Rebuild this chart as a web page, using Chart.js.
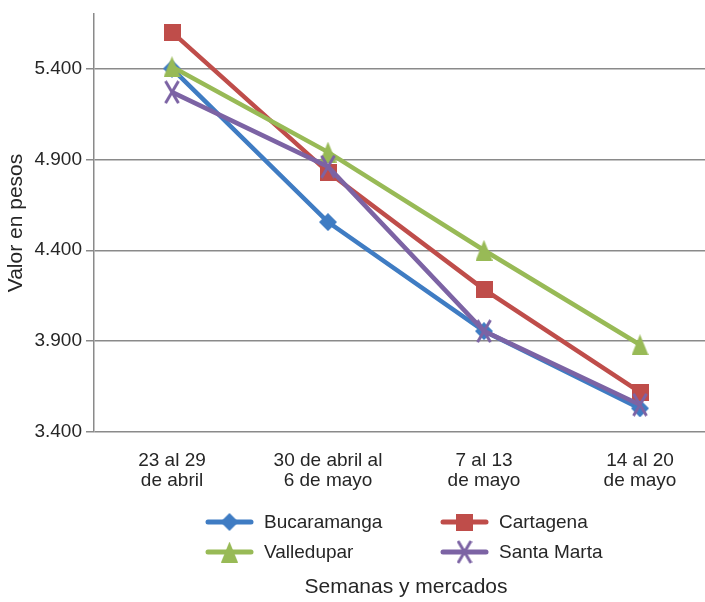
<!DOCTYPE html>
<html><head><meta charset="utf-8">
<script src="https://cdn.jsdelivr.net/npm/chart.js@4"></script>
<style>html,body{margin:0;padding:0;overflow:hidden;background:#fff}#wrap{width:705px;height:602px;position:relative}</style>
</head><body><div id="wrap"><canvas id="c" width="705" height="602"></canvas></div>
<script>
const categories = [["23 al 29","de abril"],["30 de abril al","6 de mayo"],["7 al 13","de mayo"],["14 al 20","de mayo"]];
const bucaramanga = [5400, 4555, 3955, 3530];
const cartagena = [5600, 4830, 4185, 3620];
const valledupar = [5410, 4940, 4400, 3880];
const santaMarta = [5270, 4860, 3955, 3550];
const yTicks = [3400, 3900, 4400, 4900, 5400];
const seriesNames = ["Bucaramanga", "Cartagena", "Valledupar", "Santa Marta"];
const yTitle = "Valor en pesos";
const xTitle = "Semanas y mercados";

const colors = ["#3F7CC3", "#BF4D4A", "#98BA56", "#7C63A4"];
const FONT = "'Liberation Sans', Arial, sans-serif";
const TEXT = "#262626";

function makeMarker(shape, color) {
  const c = document.createElement('canvas');
  let w, h;
  if (shape === 'diamond') { w = 18; h = 18; }
  else if (shape === 'square') { w = 17; h = 17; }
  else if (shape === 'triangle') { w = 17; h = 21; }
  else { w = 16; h = 24; }
  c.width = w; c.height = h;
  const g = c.getContext('2d');
  g.fillStyle = color; g.strokeStyle = color;
  if (shape === 'diamond') {
    g.beginPath(); g.moveTo(w/2, 0); g.lineTo(w, h/2); g.lineTo(w/2, h); g.lineTo(0, h/2); g.closePath(); g.fill();
  } else if (shape === 'square') {
    g.fillRect(0, 0, w, h);
  } else if (shape === 'triangle') {
    g.beginPath(); g.moveTo(w/2, 0); g.lineTo(w, h); g.lineTo(0, h); g.closePath(); g.fill();
  } else {
    g.lineWidth = 3; g.lineCap = 'butt';
    g.beginPath(); g.moveTo(1.5, 1); g.lineTo(w-1.5, h-1); g.moveTo(w-1.5, 1); g.lineTo(1.5, h-1); g.stroke();
  }
  return c;
}
const shapes = ['diamond', 'square', 'triangle', 'cross'];
const markers = shapes.map((s, i) => makeMarker(s, colors[i]));
const seriesData = [bucaramanga, cartagena, valledupar, santaMarta];

function fmt(v) { return String(v).replace(/\B(?=(\d{3})+(?!\d))/g, '.'); }

const legendPlugin = {
  id: 'customLegend',
  afterDraw(chart) {
    const ctx = chart.ctx;
    const a = chart.chartArea;
    const xs = chart.scales.x;
    const cx = (xs.getPixelForValue(-0.5) + xs.getPixelForValue(categories.length - 0.5)) / 2;
    const cols = [cx - 200, cx + 35];
    const rows = [a.bottom + 90, a.bottom + 120];
    ctx.save();
    chart.data.datasets.forEach((ds, i) => {
      const x = cols[i % 2], y = rows[Math.floor(i / 2)];
      ctx.strokeStyle = ds.borderColor; ctx.lineWidth = 5; ctx.lineCap = 'round';
      ctx.beginPath(); ctx.moveTo(x + 2, y); ctx.lineTo(x + 45, y); ctx.stroke();
      const m = ds.pointStyle;
      ctx.drawImage(m, x + 23.5 - m.width / 2, y - m.height / 2);
      ctx.fillStyle = TEXT; ctx.font = "19px " + FONT; ctx.textBaseline = 'middle'; ctx.textAlign = 'left';
      ctx.fillText(ds.label, x + 58, y + 1);
    });
    ctx.fillStyle = TEXT; ctx.font = "21px " + FONT; ctx.textAlign = 'center'; ctx.textBaseline = 'middle';
    ctx.fillText(xTitle, cx, 587);
    ctx.restore();
  }
};

new Chart(document.getElementById('c'), {
  type: 'line',
  data: {
    datasets: seriesNames.map((n, i) => ({
      label: n,
      data: seriesData[i].map((v, k) => ({ x: k, y: v })),
      borderColor: colors[i],
      backgroundColor: colors[i],
      borderWidth: 4.5,
      pointStyle: markers[i],
      pointRadius: 10,
      pointHoverRadius: 10,
      tension: 0,
      fill: false,
      clip: false,
      order: 3 - i
    }))
  },
  options: {
    responsive: false,
    animation: false,
    events: [],
    layout: { autoPadding: false, padding: { top: 14, left: 0, right: 0, bottom: 0 } },
    plugins: { legend: { display: false }, tooltip: { enabled: false } },
    scales: {
      x: {
        type: 'linear',
        min: -0.5, max: (705 - 94) / 156 - 0.5,
        afterBuildTicks: s => { s.ticks = categories.map((c, k) => ({ value: k })); },
        grid: { display: false, drawTicks: false },
        border: { display: false },
        ticks: { font: { family: FONT, size: 19, lineHeight: 1.05 }, color: TEXT, padding: 19, maxRotation: 0, autoSkip: false, callback: v => categories[v] },
        title: { display: false },
        afterFit: s => { s.height = 170; s.paddingLeft = 0; s.paddingRight = 0; }
      },
      y: {
        min: 3400, max: 5700,
        afterBuildTicks: s => { s.ticks = yTicks.map(v => ({ value: v })); },
        afterFit: s => { s.width = 94; s.paddingTop = 0; s.paddingBottom = 0; },
        grid: { color: '#8a8a8a', lineWidth: 1.5, tickLength: 8, drawTicks: true },
        border: { color: '#8a8a8a', width: 1.5 },
        ticks: { font: { family: FONT, size: 19 }, color: TEXT, padding: 4, callback: v => fmt(v) },
        title: { display: true, text: yTitle, font: { family: FONT, size: 21 }, color: TEXT, padding: { top: 4, bottom: 0 } }
      }
    }
  },
  plugins: [legendPlugin]
});
</script></body></html>
